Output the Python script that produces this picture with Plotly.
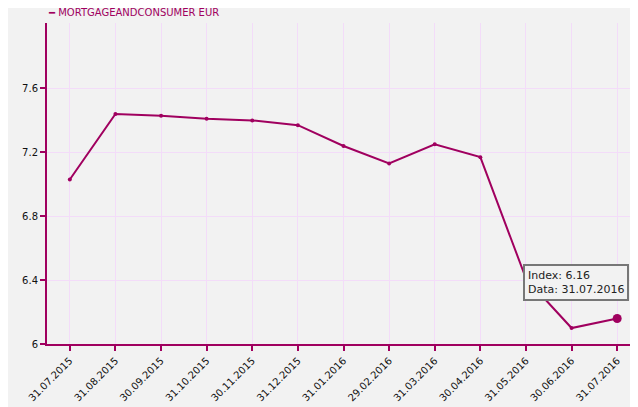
import plotly.graph_objects as go

dates = ["31.07.2015","31.08.2015","30.09.2015","31.10.2015","30.11.2015","31.12.2015",
         "31.01.2016","29.02.2016","31.03.2016","30.04.2016","31.05.2016","30.06.2016","31.07.2016"]
values = [7.03,7.44,7.43,7.41,7.40,7.37,7.24,7.13,7.25,7.17,6.41,6.10,6.16]
yticks = [6, 6.4, 6.8, 7.2, 7.6]
series_name = "MORTGAGEANDCONSUMER EUR"
C = "#a0005f"

sizes = [4]*(len(values)-1) + [9]
fig = go.Figure(go.Scatter(x=list(range(len(dates))), y=values, mode="lines+markers",
    name=series_name, line=dict(color=C, width=2),
    marker=dict(color=C, size=sizes, opacity=1, line=dict(width=0))))
fig.add_annotation(x=12, y=values[-1], text=f"Index: {values[-1]}<br>Data: {dates[-1]}",
    showarrow=True, arrowcolor="rgba(0,0,0,0)", ax=-41, ay=-36, xanchor="center",
    align="left", bgcolor="#f2f2f2", bordercolor="#777", borderwidth=2, borderpad=3,
    font=dict(family="DejaVu Sans", size=11, color="#222"))
fig.add_annotation(xref="paper", yref="paper", x=0, y=1, xshift=-1, yshift=3,
    xanchor="left", yanchor="bottom", showarrow=False,
    text="<b>━</b> " + series_name, font=dict(color=C, size=10))
fig.update_layout(width=638, height=407, paper_bgcolor="#f2f2f2", plot_bgcolor="#f2f2f2",
    margin=dict(l=39, r=6, t=15, b=71, autoexpand=False),
    font=dict(family="DejaVu Sans", size=10, color="#111"),
    showlegend=False)
fig.update_xaxes(range=[-0.5, 12.5], tickvals=list(range(len(dates))), ticktext=dates,
    tickangle=-45, showgrid=True, gridcolor="#f3dcf9", showline=True, linecolor=C,
    linewidth=2, ticks="outside", tickcolor=C, ticklen=5, tickwidth=2, zeroline=False,
    automargin=False)
fig.update_yaxes(range=[6, 8.01], tickvals=yticks, ticktext=[str(t) for t in yticks],
    showgrid=True, gridcolor="#f3dcf9", showline=True, linecolor=C, linewidth=2,
    ticks="outside", tickcolor=C, ticklen=5, tickwidth=2, zeroline=False,
    automargin=False)
fig.write_html("out.html")
